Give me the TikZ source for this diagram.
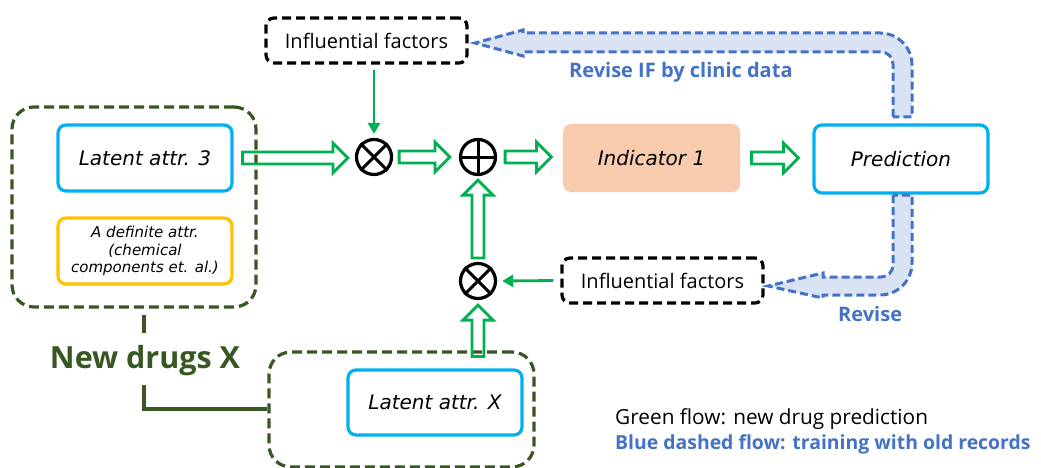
\documentclass[tikz,border=0pt]{standalone}
\usepackage{fontspec}
\setmainfont{Noto Sans}
\newfontfamily\medf{Open Sans}
\newfontfamily\boldf{Open Sans}
\newfontfamily\obl{DejaVu Sans}
\usetikzlibrary{calc,arrows.meta}
\definecolor{dkg}{HTML}{385723}
\definecolor{ggreen}{HTML}{00B050}
\definecolor{cyanc}{HTML}{00B0F0}
\definecolor{goldc}{HTML}{FFC000}
\definecolor{peach}{HTML}{F8CBAD}
\definecolor{bblue}{HTML}{4472C4}
\definecolor{lblue}{HTML}{DAE3F3}
\begin{document}
\begin{tikzpicture}[x=1pt,y=-1pt,
  box/.style={draw, rounded corners=8pt, line width=3.2pt, align=center, inner sep=0pt},
  cyanbox/.style={box, draw=cyanc, fill=white, minimum width=174pt, minimum height=66pt, font=\obl\itshape\fontsize{20}{24}\selectfont},
  ifbox/.style={box, draw=black, dash pattern=on 9pt off 5pt, minimum width=201pt, minimum height=45pt, font=\medf\fontsize{20}{24}\selectfont},
  grp/.style={draw=dkg, rounded corners=22pt, line width=3.2pt, dash pattern=on 10pt off 5pt, inner sep=0pt},
  opc/.style={circle, draw=black, line width=3.2pt, minimum size=35pt, inner sep=0pt},
  hol/.style={draw=ggreen, line width=2.8pt, line join=miter},
  hollowH/.style={to path={let \p1=(\tikztostart),\p2=(\tikztotarget) in
    (\x1,\y1+6pt) -- (\x2-15pt,\y1+6pt) -- (\x2-15pt,\y1+15pt) -- (\x2,\y1)
    -- (\x2-15pt,\y1-15pt) -- (\x2-15pt,\y1-6pt) -- (\x1,\y1-6pt) -- cycle}},
  hollowV/.style={to path={let \p1=(\tikztostart),\p2=(\tikztotarget) in
    (\x1-6pt,\y1) -- (\x1-6pt,\y2-15pt) -- (\x1-15pt,\y2-15pt) -- (\x1,\y2)
    -- (\x1+15pt,\y2-15pt) -- (\x1+6pt,\y2-15pt) -- (\x1+6pt,\y1) -- cycle}},
  thinarr/.style={draw=ggreen, line width=2.8pt, -{Triangle[length=11pt,width=12pt]}},
  fat/.style={draw=bblue, fill=lblue, line width=3pt, dash pattern=on 8pt off 4pt, line join=miter},
  bluetxt/.style={text=bblue, font=\boldf\bfseries\fontsize{20}{24}\selectfont, inner sep=0pt}
]
\fill[white] (0,0) rectangle (1041,468);
\useasboundingbox (0,0) rectangle (1041,468);

% groups
\node[grp, minimum width=244pt, minimum height=200pt] (g1) at (134,207) {};
\node[grp, minimum width=265pt, minimum height=115pt] (g2) at (401.5,409.5) {};

% boxes
\node[cyanbox] (lat3) at (145,158) {Latent attr. 3};
\node[box, draw=goldc, fill=white, minimum width=174pt, minimum height=66pt,
      font=\obl\itshape\fontsize{15}{17.5}\selectfont] (defn) at (145,251)
      {A definite attr.\\(chemical\\components et. al.)};
\node[cyanbox, minimum height=65pt] (latX) at (435,402.5) {Latent attr. X};
\node[ifbox] (if1) at (366.5,40.5) {Influential factors};
\node[ifbox] (if2) at (662.5,280.5) {Influential factors};
\node[box, draw=none, fill=peach, minimum width=177pt, minimum height=68pt,
      font=\obl\itshape\fontsize{20}{24}\selectfont] (ind) at (651.5,158) {Indicator 1};
\node[cyanbox, minimum height=68pt] (pred) at (901,159) {Prediction};

% operators
\node[opc] (ot1) at (374,157) {};
\node[opc] (op) at (478,157) {};
\node[opc] (ot2) at (478,281) {};
\draw[line width=3pt] (ot1.45) -- (ot1.225) (ot1.135) -- (ot1.315);
\draw[line width=3pt] (op.north) -- (op.south) (op.west) -- (op.east);
\draw[line width=3pt] (ot2.45) -- (ot2.225) (ot2.135) -- (ot2.315);

% New drugs X label and brackets
\node[text=dkg, font=\boldf\bfseries\fontsize{30.5}{38}\selectfont, inner sep=0pt] (newx) at (145,361) {New drugs X};
\coordinate (s1) at (144,333);
\coordinate (s2) at (144,385);
\coordinate (s3) at (144,409);
\draw[dkg, line width=3.2pt] (g1.south -| s1) ++(0,6) -- (s1);
\draw[dkg, line width=3.2pt] (s2) -- (s3) -- (s3 -| g2.west);

% hollow green arrows
\draw[hol] ([xshift=9pt]lat3.east) to[hollowH] ([xshift=-7pt]ot1.west);
\draw[hol] ([xshift=6pt]ot1.east) to[hollowH] ([xshift=-9pt]op.west);
\draw[hol] ([xshift=8pt]op.east) to[hollowH] ([xshift=-10pt]ind.west);
\draw[hol] ([xshift=10pt]ind.east) to[hollowH] ([xshift=-14pt]pred.west);
\draw[hol] ([yshift=4pt]ot2.north) to[hollowV] ([yshift=-4pt]op.south);
\draw[hol] ([yshift=12pt]latX.north -| ot2.south) to[hollowV] ([yshift=-5pt]ot2.south);

% thin green arrows
\draw[thinarr] ([yshift=-5pt]ot1.north |- if1.south) -- ([yshift=4pt]ot1.north);
\draw[thinarr] ([xshift=-7pt]if2.west) -- ([xshift=5pt]ot2.east);

% blue dashed fat arrows
\draw[fat] (893,117) -- (893,64) .. controls (893,57.4) and (887.6,52) .. (881,52)
  -- (523,52) -- (523,56) -- (475,43) -- (523,30) -- (523,33) -- (880,33)
  .. controls (897.7,33) and (912,47.3) .. (912,65) -- (912,117) -- cycle;
\draw[fat] (893,195) -- (893,265) .. controls (893,271.6) and (887.6,277) .. (881,277)
  -- (823,277) -- (823,273) -- (768,286) -- (823,298) -- (823,295) -- (880,295)
  .. controls (897.7,295) and (912,280.7) .. (912,263) -- (912,195) -- cycle;

\node[bluetxt, anchor=base west] (rev1) at (569,78) {Revise IF by clinic data};
\node[bluetxt, anchor=base west] (rev2) at (838,321) {Revise};

% legend
\node[anchor=base west, inner sep=0pt, font=\medf\fontsize{20.8}{24}\selectfont] (leg1) at (615,424) {Green flow: new drug prediction};
\node[anchor=base west, inner sep=0pt, text=bblue, font=\boldf\bfseries\fontsize{19.4}{24}\selectfont] (leg2) at (615,449) {Blue dashed flow: training with old records};
\end{tikzpicture}
\end{document}
